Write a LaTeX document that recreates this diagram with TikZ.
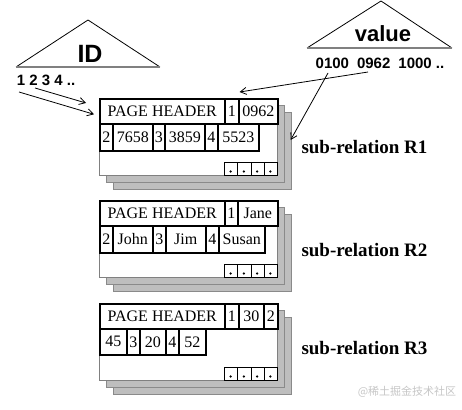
\documentclass[tikz,border=0pt]{standalone}
\usepackage{fontspec}
\setmainfont{Liberation Serif}
\newfontfamily\arialfont{Liberation Sans}
\newfontfamily\cjk{Noto Sans CJK SC}
\usepackage{tikz}
\usetikzlibrary{arrows.meta, positioning, calc}
\definecolor{pagegray}{HTML}{BEBEBE}
\definecolor{edgegray}{HTML}{8A8A8A}

\begin{document}
\begin{tikzpicture}[x=1pt, y=-1pt,
    cell/.style={draw, line width=1.6pt, inner sep=0pt, anchor=north west,
                 font=\fontsize{16}{16}\selectfont},
    slot/.style={draw, line width=0.6pt, inner sep=0pt, anchor=north west,
                 minimum width=13.25pt, minimum height=13pt},
    sheet/.style={fill=pagegray, draw=edgegray, line width=0.8pt},
    ptr/.style={-{Straight Barb[length=6pt, width=7pt]}, line width=0.8pt},
    sublabel/.style={anchor=west, font=\fontsize{19}{19}\selectfont\bfseries}]
  \useasboundingbox (0,0) rectangle (462,409);

  % index triangles
  \draw[line width=0.8pt] (16,67) -- (88,20) -- (160,67);
  \draw[gray, line width=2pt] (16,67) -- (160,67);
  \node[font=\arialfont\fontsize{25}{25}\selectfont\bfseries] (idtitle) at (90,54) {ID};
  \node[font=\arialfont\fontsize{15}{15}\selectfont\bfseries] (idkeys) at (46,80) {1 2 3 4 ..};
  \draw[line width=0.8pt] (307,48) -- (381,1) -- (452,48);
  \draw[gray, line width=2pt] (307,48) -- (452,48);
  \node[font=\arialfont\fontsize{22}{22}\selectfont\bfseries] (valtitle) at (383,34) {value};
  \node[font=\arialfont\fontsize{15}{15}\selectfont\bfseries] (valkeys) at (380,63)
    {0100\hspace{8pt}0962\hspace{8pt}1000 ..};

  % page stacks
  \foreach \t in {98,200,303} {
    \draw[sheet] (113,\t+14) rectangle (291,\t+91);
    \draw[sheet] (106,\t+7) rectangle (284,\t+84);
    \draw[fill=white, draw=gray, line width=0.6pt] (99,\t) rectangle (277,\t+77);
    \foreach \i in {0,...,3} {
      \node[slot] (slot\t-\i) at ({224+13.25*\i},\t+64) {};
      \fill ({230.6+13.25*\i},\t+73.5) circle (1.3pt);
    }
  }

  % sub-relation R1
  \foreach \x/\w/\txt [count=\i] in {99/125/PAGE HEADER, 224/14/1, 238/39/0962}
    \node[cell, minimum width=\w, minimum height=25] (ra\i) at (\x,98) {\txt};
  \foreach \x/\w/\txt [count=\i] in {99/13/2, 112/40/7658, 152/12/3, 164/40/3859, 204/13/4, 217/41/5523}
    \node[cell, minimum width=\w, minimum height=27] (rb\i) at (\x,123) {\txt};
  \node[sublabel] (subone) at (298,147) {sub-relation R1};

  % sub-relation R2
  \foreach \x/\w/\txt [count=\i] in {99/125/PAGE HEADER, 224/13/1, 237/40/Jane}
    \node[cell, minimum width=\w, minimum height=25] (sa\i) at (\x,200) {\txt};
  \foreach \x/\w/\txt [count=\i] in {99/13/2, 112/40/John, 152/13/3, 165/40/Jim, 205/13/4, 218/46/Susan}
    \node[cell, minimum width=\w, minimum height=27] (sb\i) at (\x,225) {\txt};
  \node[sublabel] (subtwo) at (298,250) {sub-relation R2};

  % sub-relation R3
  \foreach \x/\w/\txt [count=\i] in {99/125/PAGE HEADER, 224/14/1, 238/25/30, 263/14/2}
    \node[cell, minimum width=\w, minimum height=25] (ta\i) at (\x,303) {\txt};
  \foreach \x/\w/\txt [count=\i] in {99/27/45, 126/13/3, 139/26/20, 165/13/4, 178/27/52}
    \node[cell, minimum width=\w, minimum height=26] (tb\i) at (\x,328) {\txt};
  \node[sublabel] (subthree) at (298,348) {sub-relation R3};

  % pointers
  \coordinate (keyone) at (19,92);
  \coordinate (keytwo) at (35,88);
  \coordinate (valone) at (328,73);
  \coordinate (valtwo) at (368,72);
  \draw[ptr] (keyone) -- ($(ra1.west)+(-5,3)$);
  \draw[ptr] (keytwo) -- ($(ra1.north west)+(-13,5)$);
  \draw[ptr] (valtwo) -- ($(ra2.north east)+(0,-6)$);
  \draw[ptr] (valone) -- ($(slot98-3.north east)+(13,-22)$);

  \node[font=\cjk\fontsize{11}{11}\selectfont, text=gray!45] (mark) at (407,392) {@稀土掘金技术社区};
\end{tikzpicture}
\end{document}
